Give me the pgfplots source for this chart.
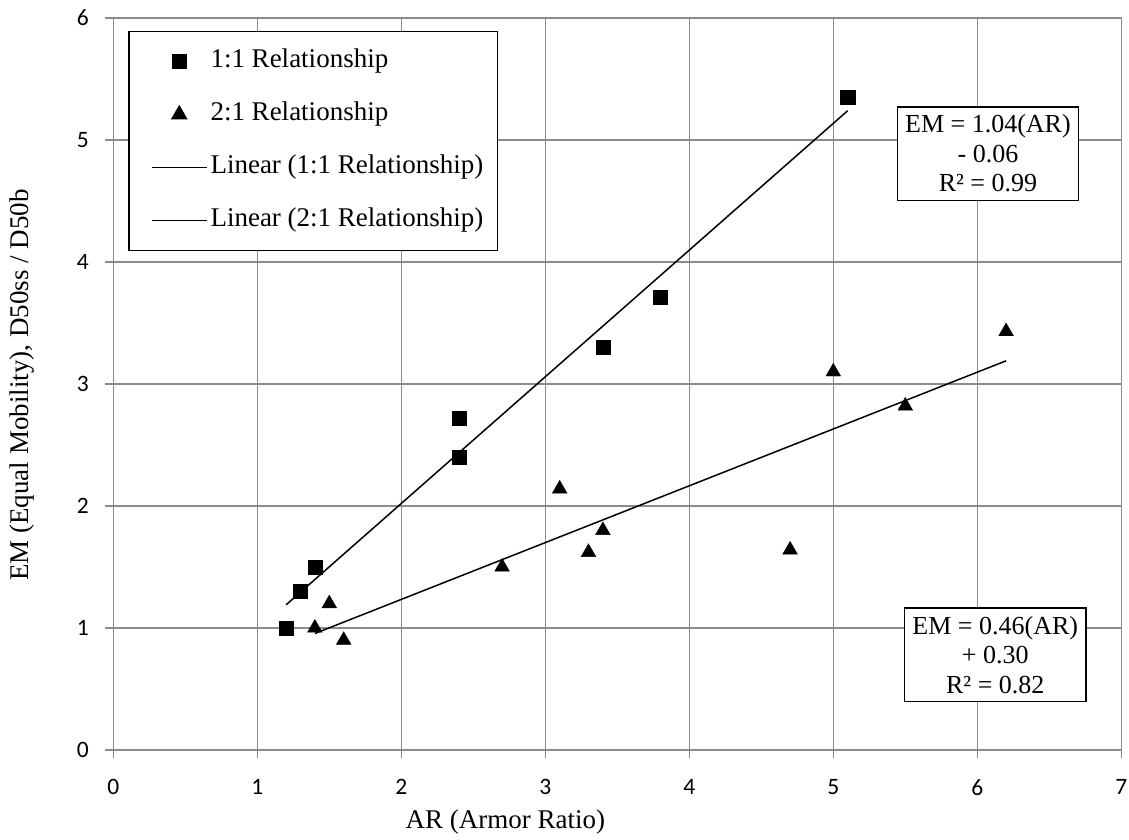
\documentclass[border=0pt]{standalone}
\usepackage{fontspec}
\setmainfont{Liberation Serif}
\newfontfamily\carlito{Carlito}
\usepackage{pgfplots}
\pgfplotsset{compat=1.18}
\definecolor{gridgray}{RGB}{140,140,140}

\begin{document}
\begin{tikzpicture}[x=1pt,y=1pt]
\useasboundingbox (0,0) rectangle (1129,840);
\begin{axis}[
    at={(113.3pt,90pt)}, anchor=south west,
    scale only axis,
    width=1008pt, height=732pt,
    xmin=0, xmax=7, ymin=0, ymax=6,
    xtick={0,1,2,3,4,5,6,7},
    ytick={0,1,2,3,4,5,6},
    tick pos=left,
    tick align=outside,
    major tick length=8pt,
    grid=major,
    major grid style={draw=gridgray, line width=1.3pt},
    axis line style={draw=gridgray, line width=1.3pt},
    tick style={draw=gridgray, line width=1.3pt},
    /pgf/number format/assume math mode=true,
    ticklabel style={font=\carlito\fontsize{23.5}{27}\selectfont},
    xticklabel style={yshift=-18pt},
    yticklabel style={xshift=-13pt},
    label style={font=\fontsize{27}{31}\selectfont},
    xlabel={AR (Armor Ratio)},
    xlabel style={at={(axis description cs:0.389,-0.098)}, anchor=center},
    ylabel={EM (Equal Mobility), D50ss / D50b},
    ylabel style={at={(axis description cs:-0.0906,0.4986)}, anchor=center},
    legend image code/.code={
        \path (0pt,0pt) (63pt,0pt);
        \draw[mark repeat=2,mark phase=2,#1] plot coordinates {(8pt,0pt) (35.5pt,0pt) (63pt,0pt)};
    },
    legend cell align=left,
    legend style={
        at={(axis description cs:0.015,0.982)}, anchor=north west,
        draw=black, line width=1.2pt,
        inner xsep=14pt, inner ysep=17.5pt,
        column sep=3pt, row sep=28.5pt,
        font=\fontsize{27}{31}\selectfont,
        nodes={inner sep=0pt, text height=18.5pt, text depth=6pt},
    },
]

% 1:1 relationship
\addplot[only marks, mark=square*, mark size=7.1pt, black] coordinates {
    (1.2,1.00) (1.3,1.30) (1.4,1.50) (2.4,2.40) (2.4,2.72)
    (3.4,3.30) (3.8,3.71) (5.1,5.35)
};
\addlegendentry{1:1 Relationship}

% 2:1 relationship
\addplot[only marks, mark=triangle*, mark size=8.5pt, black] coordinates {
    (1.4,1.00) (1.5,1.20) (1.6,0.90) (2.7,1.50) (3.1,2.14)
    (3.3,1.62) (3.4,1.80) (4.7,1.64) (5.0,3.10) (5.5,2.82)
    (6.2,3.43)
};
\addlegendentry{2:1 Relationship}

% trend lines
\addplot[black, line width=1.5pt, mark=none] coordinates {(1.2,1.19) (5.1,5.24)};
\addlegendentry{Linear (1:1 Relationship)}
\addplot[black, line width=1.5pt, mark=none] coordinates {(1.4,0.955) (6.2,3.19)};
\addlegendentry{Linear (2:1 Relationship)}

\node[draw=black, line width=1.2pt, fill=white, align=center, inner xsep=8pt, inner ysep=8pt,
      font=\fontsize{26}{29.5}\selectfont] at (axis cs:6.074,4.888)
      {EM = 1.04(AR)\\- 0.06\\R² = 0.99};
\node[draw=black, line width=1.2pt, fill=white, align=center, inner xsep=8pt, inner ysep=8pt,
      font=\fontsize{26}{29.5}\selectfont] at (axis cs:6.125,0.781)
      {EM = 0.46(AR)\\+ 0.30\\R² = 0.82};
\end{axis}
\end{tikzpicture}
\end{document}
